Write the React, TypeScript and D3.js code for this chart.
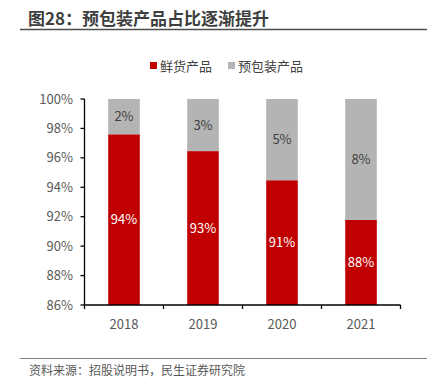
import React from "react";
import * as d3 from "d3";

const years = ["2018", "2019", "2020", "2021"];
const freshValues = [93.6, 92.6, 90.7, 88.2];
const packagedValues = [2.3, 3.4, 5.3, 7.9];
const seriesNames = ["鲜货产品", "预包装产品"];
const seriesColors = ["#c00000", "#b4b4b4"];
const yTicks = [86, 88, 90, 92, 94, 96, 98, 100];

const W = 433;
const H = 391;
const left = 84.5;
const right = 400.5;
const top = 99;
const bottom = 305;
const font = "'Noto Sans CJK SC', 'Noto Sans', sans-serif";

export default function App() {
  const x = d3.scaleBand<string>().domain(years).range([left, right]).paddingInner(0.6).paddingOuter(0.3);
  const y = d3.scaleLinear().domain([86, 100]).range([bottom, top]);
  const stackData = years.map((yr, i) => {
    const total = freshValues[i] + packagedValues[i];
    return { year: yr, fresh: (freshValues[i] / total) * 100, packaged: (packagedValues[i] / total) * 100 };
  });
  const series = d3.stack<any>().keys(["fresh", "packaged"])(stackData as any);
  const rawVals = [freshValues, packagedValues];
  const bandStep = (right - left) / years.length;

  return (
    <svg width={W} height={H} style={{ position: "absolute", left: 0, top: 0, background: "#fff" }}>
      <text x={28} y={24.5} fontFamily={font} fontSize={17} fontWeight="bold" fill="#3f3f3f">图28：预包装产品占比逐渐提升</text>
      <line x1={20} x2={427} y1={29.5} y2={29.5} stroke="#4d4d4d" strokeWidth={1.5} />

      {/* legend */}
      <g fontFamily={font} fontSize={13} fill="#404040">
        <rect x={150} y={62} width={7} height={7} fill={seriesColors[0]} />
        <text x={160} y={70.5}>{seriesNames[0]}</text>
        <rect x={228} y={62} width={7} height={7} fill={seriesColors[1]} />
        <text x={238} y={70.5}>{seriesNames[1]}</text>
      </g>

      {/* bars */}
      {series.map((s, si) => (
        <g key={si}>
          {s.map((d, i) => {
            const y0 = y(Math.max(d[0], 86));
            const y1 = y(d[1]);
            const bx = x(years[i])!;
            return (
              <g key={i}>
                <rect x={bx} y={y1} width={x.bandwidth()} height={y0 - y1} fill={seriesColors[si]} />
                <text
                  x={bx + x.bandwidth() / 2}
                  y={(y0 + y1) / 2 + 4.5}
                  textAnchor="middle"
                  fontFamily={font}
                  fontSize={13}
                  fill={si === 0 ? "#ffffff" : "#404040"}
                >
                  {Math.round(rawVals[si][i])}%
                </text>
              </g>
            );
          })}
        </g>
      ))}

      {/* y axis */}
      <line x1={left} x2={left} y1={top} y2={bottom} stroke="#000" strokeWidth={1.3} />
      {yTicks.map((t) => (
        <g key={t}>
          <line x1={left - 4} x2={left} y1={y(t)} y2={y(t)} stroke="#000" strokeWidth={1.3} />
          <text x={73} y={y(t) + 4.5} textAnchor="end" fontFamily={font} fontSize={13} fill="#595959">{t}%</text>
        </g>
      ))}

      {/* x axis */}
      <line x1={left} x2={right} y1={bottom} y2={bottom} stroke="#000" strokeWidth={1.3} />
      {d3.range(years.length + 1).map((i) => (
        <line key={i} x1={left + i * bandStep} x2={left + i * bandStep} y1={bottom} y2={bottom + 4} stroke="#000" strokeWidth={1.3} />
      ))}
      {years.map((yr) => (
        <text key={yr} x={x(yr)! + x.bandwidth() / 2} y={329} textAnchor="middle" fontFamily={font} fontSize={13} fill="#595959">{yr}</text>
      ))}

      <line x1={20} x2={427} y1={358.5} y2={358.5} stroke="#808080" strokeWidth={1} />
      <text x={29} y={375} fontFamily={font} fontSize={12} fill="#595959">资料来源：招股说明书，民生证券研究院</text>
    </svg>
  );
}
